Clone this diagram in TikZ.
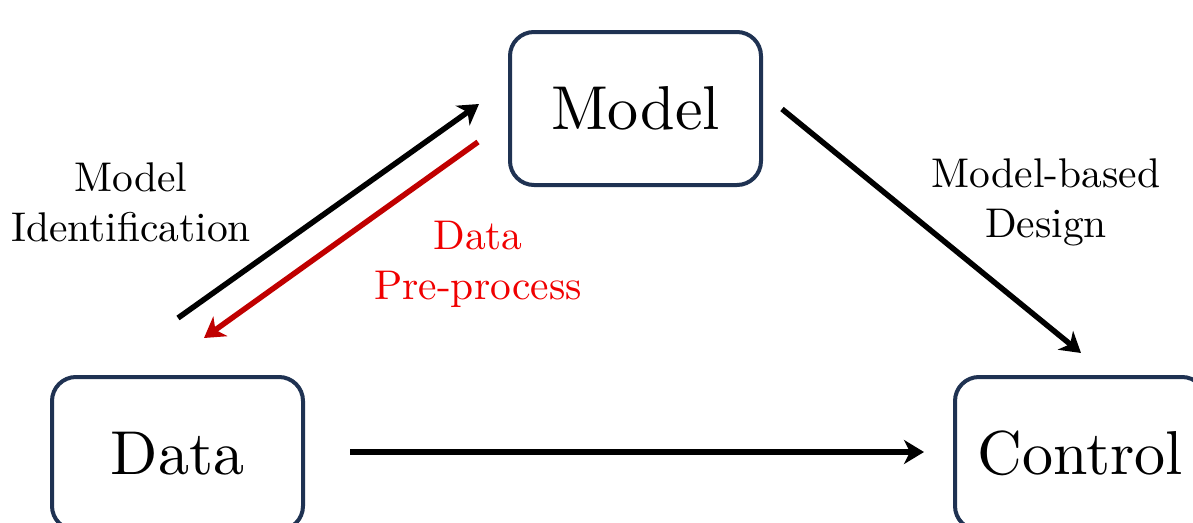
\documentclass[tikz,border=0pt]{standalone}
\usepackage{fontspec}
\setmainfont{lmroman10-regular.otf}
\usetikzlibrary{arrows.meta}
\definecolor{boxblue}{HTML}{1F3252}
\definecolor{arrred}{HTML}{C00000}
\definecolor{txtred}{HTML}{F00000}
\begin{document}
\begin{tikzpicture}[x=1pt,y=-1pt,
  blk/.style={draw=boxblue, line width=4pt, rounded corners=24pt, minimum width=251pt, minimum height=153pt, inner sep=0pt, font=\fontsize{62}{74}\selectfont},
  lbl/.style={align=center, font=\fontsize{41.5}{50}\selectfont},
  arr/.style={line width=5.5pt, -{Stealth[length=20pt,width=24pt,inset=6pt]}}]
\useasboundingbox (0,0) rectangle (1193,522);
\node[blk] (model) at (635.5,108.5) {Model};
\node[blk] (data) at (177.5,453.5) {Data};
\node[blk] (control) at (1080.5,453.5) {Control};
\coordinate (mi1) at (178,318);
\coordinate (mi2) at (479,104);
\coordinate (dp1) at (478,142);
\coordinate (dp2) at (204,338);
\coordinate (md1) at (782,109);
\coordinate (md2) at (1081,353);
\coordinate (dc1) at (350,452);
\coordinate (dc2) at (924,452);
\draw[arr] (mi1) -- (mi2);
\draw[arr, draw=arrred, color=arrred] (dp1) -- (dp2);
\draw[arr] (md1) -- (md2);
\draw[arr] (dc1) -- (dc2);
\node[lbl] (lmi) at (131,202) {Model\\Identification};
\node[lbl, text=txtred] (ldp) at (478,264) {Data\\Pre-process};
\node[lbl] (lmd) at (1046,202) {Model-based\\Design};
\end{tikzpicture}
\end{document}
